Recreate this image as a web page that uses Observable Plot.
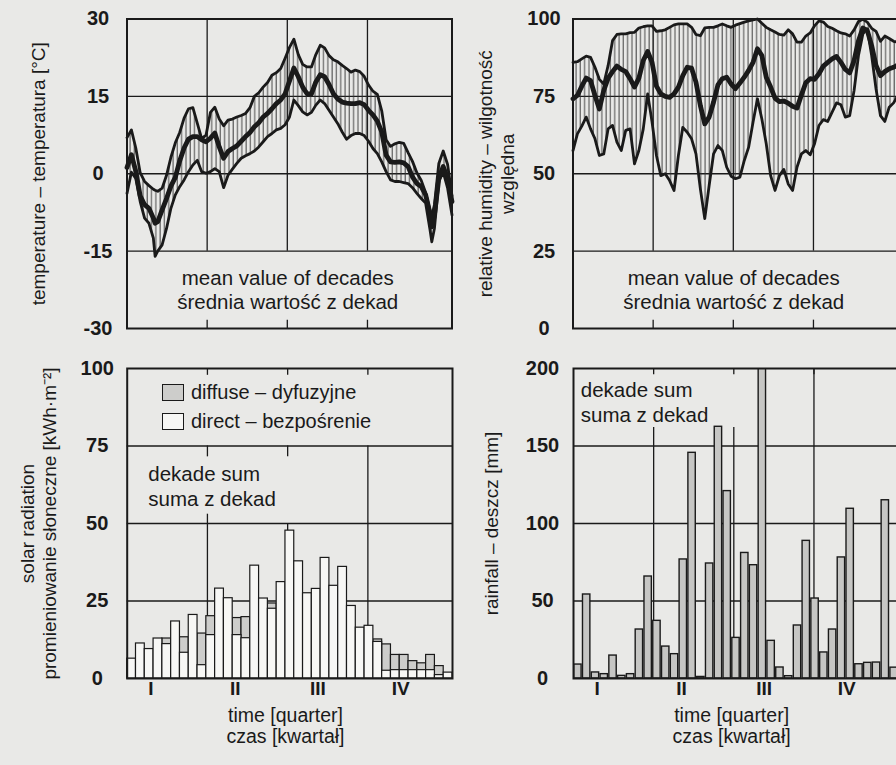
<!DOCTYPE html>
<html>
<head>
<meta charset="utf-8">
<script src="https://cdn.jsdelivr.net/npm/d3@7"></script>
<script src="https://cdn.jsdelivr.net/npm/@observablehq/plot@0.6"></script>
<style>
  html, body { margin: 0; padding: 0; background: #e9e9e7; }
  #wrap { position: relative; width: 896px; height: 765px; overflow: hidden; background: #e9e9e7;
          font-family: 'Liberation Sans', Arial, sans-serif; color: #1a1a1a; }
  .panel { position: absolute; width: 470px; }
  .panel svg { max-width: none !important; display: block; }
  .leg { position: absolute; display: flex; align-items: center; font-size: 20px; line-height: 1; white-space: nowrap; }
  .sw { display: inline-block; width: 20px; height: 15px; border: 1.5px solid #1a1a1a; margin-right: 7px; }
</style>
</head>
<body>
<div id="wrap"></div>
<script>
// ---------- DATA ----------
const quarterBounds = [91.25, 182.5, 273.75];          // day of year at quarter boundaries
const quarterNames = ["I", "II", "III", "IV"];
const quarterLabelDays = [27, 123, 217, 311];

const tempTicks = [30, 15, 0, -15, -30];
const humTicks = [100, 75, 50, 25, 0];
const radTicks = [100, 75, 50, 25, 0];
const rainTicks = [200, 150, 100, 50, 0];

// temperature [°C] – decade means (max / mean / min)
const tempDays = [0,5,10,15,20,25,30,32,35,40,45,50,55,60,65,70,75,80,85,90,95,100,105,110,115,120,125,130,135,140,145,150,155,160,165,170,175,180,185,190,195,200,205,210,215,220,225,230,235,240,245,250,255,260,265,270,275,280,285,290,295,300,305,310,315,320,325,330,335,340,345,347,350,355,360,365,370];
const tempMax = [7.0,8.5,5.0,0.2,-1.5,-2.3,-3.0,-3.2,-3.4,-2.8,-0.3,3.2,6.0,8.0,10.8,12.6,12.8,9.8,6.8,7.5,11.9,12.9,10.6,9.3,10.4,10.6,11.0,11.3,11.7,12.8,15.0,15.7,16.8,17.7,19.1,19.6,20.4,22.4,24.5,26.1,23.1,21.2,20.7,20.7,23.1,24.9,24.4,22.9,22.1,21.7,21.0,20.4,19.7,20.1,19.8,18.9,17.2,16.0,15.4,12.2,6.6,5.3,5.8,6.1,5.9,4.1,2.4,0.2,-1.3,-3.7,-7.1,-8.3,-6.0,2.0,4.4,1.8,-4.3];
const tempMean = [1.2,3.7,0.5,-4.3,-6.0,-6.7,-8.6,-9.6,-9.3,-7.0,-4.8,-2.4,-0.7,2.5,5.0,6.7,7.2,7.2,6.6,6.2,6.9,7.9,5.2,3.0,4.3,4.9,5.4,6.3,7.2,8.0,9.1,9.9,11.0,11.7,12.6,13.6,14.3,15.5,18.0,20.5,18.8,16.8,15.5,15.5,17.8,19.2,18.8,17.3,15.5,14.5,13.9,13.7,13.6,13.6,13.8,13.4,12.3,11.4,10.2,8.1,3.6,2.3,2.2,2.3,2.1,1.4,-0.6,-1.9,-2.5,-4.1,-7.7,-10.3,-8.0,-0.9,1.4,-0.9,-5.4];
const tempMin = [-3.8,0.3,-0.9,-5.4,-8.6,-9.6,-12.5,-16.0,-15.0,-13.8,-10.6,-6.7,-4.1,-2.5,-1.2,0.4,1.7,2.6,0.4,0.1,0.4,1.0,0.4,-2.7,-0.3,0.9,2.0,3.0,3.5,3.9,4.4,5.2,6.2,7.2,7.8,8.5,8.8,9.5,11.0,14.3,13.2,12.0,11.4,11.9,13.3,14.3,13.6,12.3,11.0,9.7,8.1,6.7,7.4,7.8,7.8,7.4,6.3,4.9,3.9,2.3,0.4,-1.2,-1.5,-1.5,-1.7,-1.9,-2.7,-3.8,-4.8,-5.7,-10.9,-13.2,-10.6,-1.5,0.3,-2.8,-8.0];

// relative humidity [%] – decade means (max / mean / min)
const humDays = [0,5,10,15,20,25,30,35,40,45,50,55,60,65,70,75,80,85,90,95,100,105,110,115,120,125,130,135,140,145,150,155,160,165,170,175,180,185,190,195,200,205,210,215,220,225,230,235,240,245,250,255,260,265,270,275,280,285,290,295,300,305,310,315,320,325,330,335,340,345,350,355,360,365,370];
const humMax = [86.0,86.2,87.1,88.0,87.6,84.4,80.5,79.0,85.0,93.0,95.0,95.2,95.2,95.6,95.7,97.1,97.5,97.8,97.8,96.0,96.2,96.5,97.3,98.1,98.4,98.4,98.4,97.3,95.0,94.6,97.1,97.3,97.3,97.8,98.4,97.8,97.3,98.0,98.5,99.0,99.4,99.7,100,98.6,97.3,96.5,95.8,95.0,94.8,96.5,95.2,92.5,92.5,94.5,95.5,97.8,99.4,99.0,97.6,97.0,96.2,95.5,95.2,94.5,96.5,99.2,99.9,99.0,97.0,96.0,92.8,94.5,93.7,92.8,92.5];
const humMean = [74.2,75.3,78.3,80.9,80.1,75.3,70.9,76.9,80.9,83.0,84.8,83.7,83.0,80.7,78.0,80.9,86.6,89.5,86.0,78.3,75.8,75.0,74.7,75.8,78.0,81.7,84.4,84.1,79.6,72.0,66.1,68.3,73.1,78.7,80.7,81.2,79.0,77.5,79.3,81.2,83.4,86.0,90.4,88.2,81.2,78.0,74.4,73.3,73.5,72.8,71.8,71.2,75.4,79.4,80.7,80.5,82.3,84.8,86.0,87.1,87.9,86.0,83.7,82.6,86.6,93.0,97.1,96.3,91.4,85.0,81.7,83.0,83.9,84.4,85.2];
const humMin = [57.5,62.9,65.4,68.3,64.5,61.3,55.9,56.4,64.5,65.6,60.2,57.5,64.0,64.5,53.2,57.5,64.5,75.8,66.7,55.9,49.4,50.0,47.8,44.6,55.9,65.0,63.4,61.3,56.4,45.1,35.5,46.2,56.4,59.1,57.5,52.1,49.2,48.4,48.9,54.3,58.6,66.7,74.2,67.7,59.7,49.4,44.6,49.4,51.4,46.7,44.6,52.1,56.4,57.5,56.1,59.7,65.6,67.5,66.9,69.9,72.9,72.3,68.3,68.8,76.9,88.2,95.2,96.8,88.2,77.4,68.8,66.9,71.5,72.9,75.3];

// solar radiation [kWh·m-2] – decade sums (37 decades)
const radDirect  = [6.4,11.3,9.5,12.9,11.1,18.4,8.3,20.5,4.3,14.0,29.0,25.9,14.0,13.0,36.4,25.8,22.5,31.1,47.7,37.8,27.5,28.9,38.9,29.9,36.0,23.4,16.4,17.0,11.8,2.5,2.7,2.7,2.7,2.7,2.7,1.1,1.9];
const radDiffuse = [0,0,0,0,12.9,0,13.3,0,14.5,20.1,0,0,19.5,19.8,0,0,24.2,0,0,0,0,0,0,0,0,0,0,0,12.6,11.0,7.6,7.6,5.6,4.9,7.6,4.0,0];

// rainfall [mm] – decade sums (37 decades)
const rainfall = [9,54.2,3.9,2.8,14.8,1.7,2.8,31.6,65.8,37.2,20.6,15.7,76.8,145.6,1,74.2,162.4,120.9,26.2,81,73.1,215,24.3,7.1,1.5,34.2,88.8,51.6,16.8,31.6,78.1,109.5,9.2,10.1,10.3,115,7];

const legendLabels = ["diffuse – dyfuzyjne", "direct – bezpośrenie"];

// ---------- BUILD ----------
const INK = "#1a1a1a";
const FONT = "'Liberation Sans', Arial, sans-serif";
const tempRows = tempDays.map((d, i) => ({day: d, max: tempMax[i], mean: tempMean[i], min: tempMin[i]}));
const humRows = humDays.map((d, i) => ({day: d, max: humMax[i], mean: humMean[i], min: humMin[i]}));
const radRows = radDirect.map((v, i) => ({start: i * 10, end: i * 10 + 10, direct: v, diffuse: radDiffuse[i]}));
const rainRows = rainfall.map((v, i) => ({start: i * 10, end: i * 10 + 10, rain: v}));

const wrap = document.getElementById("wrap");
const baseStyle = {background: "transparent", fontFamily: FONT, fontSize: "19px", color: INK, overflow: "visible"};

function addHatch(svg, id) {
  const ns = "http://www.w3.org/2000/svg";
  const defs = document.createElementNS(ns, "defs");
  const pat = document.createElementNS(ns, "pattern");
  pat.setAttribute("id", id);
  pat.setAttribute("patternUnits", "userSpaceOnUse");
  pat.setAttribute("width", "4.3");
  pat.setAttribute("height", "20");
  const ln = document.createElementNS(ns, "line");
  ln.setAttribute("x1", "1"); ln.setAttribute("x2", "1");
  ln.setAttribute("y1", "0"); ln.setAttribute("y2", "20");
  ln.setAttribute("stroke", "#333");
  ln.setAttribute("stroke-width", "0.9");
  pat.appendChild(ln);
  defs.appendChild(pat);
  svg.insertBefore(defs, svg.firstChild);
}

function place(svg, left, top) {
  const div = document.createElement("div");
  div.className = "panel";
  div.style.left = left + "px";
  div.style.top = top + "px";
  div.appendChild(svg);
  wrap.appendChild(div);
}

function tickLabels(ticks, dx) {
  return Plot.text(ticks, {y: d => d, text: d => String(d), frameAnchor: "left", dx, textAnchor: "middle",
    fontWeight: "bold", fontSize: 20, fill: INK});
}

function yTitle(title, dx) {
  return Plot.text([title], {frameAnchor: "left", dx, rotate: -90, textAnchor: "middle", lineAnchor: "middle",
    fontSize: 19, lineHeight: 1.15, fill: INK});
}

function xLabels() {
  return [
    Plot.text(quarterNames, {x: quarterLabelDays, frameAnchor: "bottom", dy: 10, lineAnchor: "middle",
      fontWeight: "bold", fontSize: 19, fill: INK}),
    Plot.text(["time [quarter]\nczas [kwartał]"], {x: 180, frameAnchor: "bottom", dy: 47, lineAnchor: "middle",
      fontSize: 19.5, lineHeight: 1.12, fill: INK})
  ];
}

function bandPanel(rows, hatchId, yDomain, ticks, gridY, vTop, vBottomTick, note, noteY, title, titleDx) {
  return Plot.plot({
    width: 470, height: 345,
    marginLeft: 126.5, marginRight: 18.5, marginTop: 18.5, marginBottom: 17,
    x: {domain: [0, 370], axis: null},
    y: {domain: yDomain, axis: null},
    style: baseStyle,
    marks: [
      Plot.ruleY(gridY, {stroke: INK, strokeWidth: 1.3}),
      Plot.ruleX(quarterBounds, {y1: vTop, y2: yDomain[1], stroke: INK, strokeWidth: 1.3}),
      Plot.ruleX(quarterBounds, {y1: yDomain[0], y2: vBottomTick, stroke: INK, strokeWidth: 1.3}),
      Plot.areaY(rows, {x: "day", y1: "min", y2: "max", fill: `url(#${hatchId})`}),
      Plot.line(rows, {x: "day", y: "max", stroke: INK, strokeWidth: 2.8}),
      Plot.line(rows, {x: "day", y: "min", stroke: INK, strokeWidth: 2.8}),
      Plot.line(rows, {x: "day", y: "mean", stroke: INK, strokeWidth: 4.8}),
      Plot.frame({stroke: INK, strokeWidth: 2}),
      tickLabels(ticks, -29),
      Plot.text([note], {x: 183, y: noteY, lineAnchor: "middle", fontSize: 20.5, lineHeight: 1.15, fill: INK}),
      yTitle(title, titleDx)
    ]
  });
}

// top-left: temperature
const tempPlot = bandPanel(tempRows, "hatchT", [-30, 30], tempTicks, [15, 0, -15], -15, -28.4,
  "mean value of decades\nśrednia wartość z dekad", -22.4, "temperature – temperatura [°C]", -89);
addHatch(tempPlot, "hatchT");
place(tempPlot, 0, 0);

// top-right: humidity
const humPlot = bandPanel(humRows, "hatchH", [0, 100], humTicks, [75, 50, 25], 25, 2.7,
  "mean value of decades\nśrednia wartość z dekad", 12.6, "relative humidity – wilgotność\nwzględna", -77);
addHatch(humPlot, "hatchH");
place(humPlot, 446, 0);

// bottom-left: solar radiation
const radPlot = Plot.plot({
  width: 470, height: 420,
  marginLeft: 126.7, marginRight: 18, marginTop: 23, marginBottom: 87,
  x: {domain: [0, 370], axis: null},
  y: {domain: [0, 100], axis: null},
  style: baseStyle,
  marks: [
    Plot.ruleY([75, 50, 25], {stroke: INK, strokeWidth: 1.3}),
    Plot.ruleX(quarterBounds, {y1: 97.8, y2: 100, stroke: INK, strokeWidth: 1.3}),
    Plot.ruleX(quarterBounds.slice(0, 2), {y1: 71.5, y2: 75, stroke: INK, strokeWidth: 1.3}),
    Plot.ruleX(quarterBounds, {y1: 0, y2: (d, i) => [53, 50, 75][i], stroke: INK, strokeWidth: 1.3}),
    Plot.rectY(radRows.filter(d => d.diffuse > 0), {x1: "start", x2: "end", y: "diffuse", fill: "#cdcdcb", stroke: INK, strokeWidth: 1.2}),
    Plot.rectY(radRows, {x1: "start", x2: "end", y: "direct", fill: "#f7f7f5", stroke: INK, strokeWidth: 1.2}),
    Plot.frame({stroke: INK, strokeWidth: 2}),
    tickLabels(radTicks, -30),
    Plot.text(["dekade sum\nsuma z dekad"], {x: 24, y: 62.3, textAnchor: "start", lineAnchor: "middle", fontSize: 20.5, lineHeight: 1.2, fill: INK}),
    ...xLabels(),
    yTitle("solar radiation\npromieniowanie słoneczne [kWh·m⁻²]", -89)
  ]
});
place(radPlot, 0, 345);

// bottom-right: rainfall
const rainPlot = Plot.plot({
  width: 470, height: 420,
  marginLeft: 127, marginRight: 18, marginTop: 23, marginBottom: 87,
  x: {domain: [0, 370], axis: null},
  y: {domain: [0, 200], axis: null},
  style: baseStyle,
  marks: [
    Plot.ruleY([150, 100, 50], {stroke: INK, strokeWidth: 1.3}),
    Plot.ruleX(quarterBounds, {y1: 196, y2: 200, stroke: INK, strokeWidth: 1.3}),
    Plot.ruleX(quarterBounds, {y1: 0, y2: (d, i) => [162, 162, 200][i], stroke: INK, strokeWidth: 1.3}),
    Plot.rectY(rainRows, {x1: "start", x2: "end", y: "rain", insetLeft: 0.7, insetRight: 0.7, fill: "#c6c6c4", stroke: INK, strokeWidth: 1.4, clip: true}),
    Plot.frame({stroke: INK, strokeWidth: 2}),
    tickLabels(rainTicks, -31),
    Plot.text(["dekade sum\nsuma z dekad"], {x: 8.3, y: 178.7, textAnchor: "start", lineAnchor: "middle", fontSize: 20.5, lineHeight: 1.2, fill: INK}),
    ...xLabels(),
    yTitle("rainfall – deszcz [mm]", -83)
  ]
});
place(rainPlot, 446, 345);

// legend for solar radiation (inside bottom-left panel)
const legendFills = ["#cdcdcb", "#f7f7f5"];
const legendTops = [382, 411];
legendLabels.forEach((lab, i) => {
  const row = document.createElement("div");
  row.className = "leg";
  row.style.left = "162px";
  row.style.top = legendTops[i] + "px";
  const sw = document.createElement("span");
  sw.className = "sw";
  sw.style.background = legendFills[i];
  row.appendChild(sw);
  row.appendChild(document.createTextNode(lab));
  wrap.appendChild(row);
});
</script>
</body>
</html>
